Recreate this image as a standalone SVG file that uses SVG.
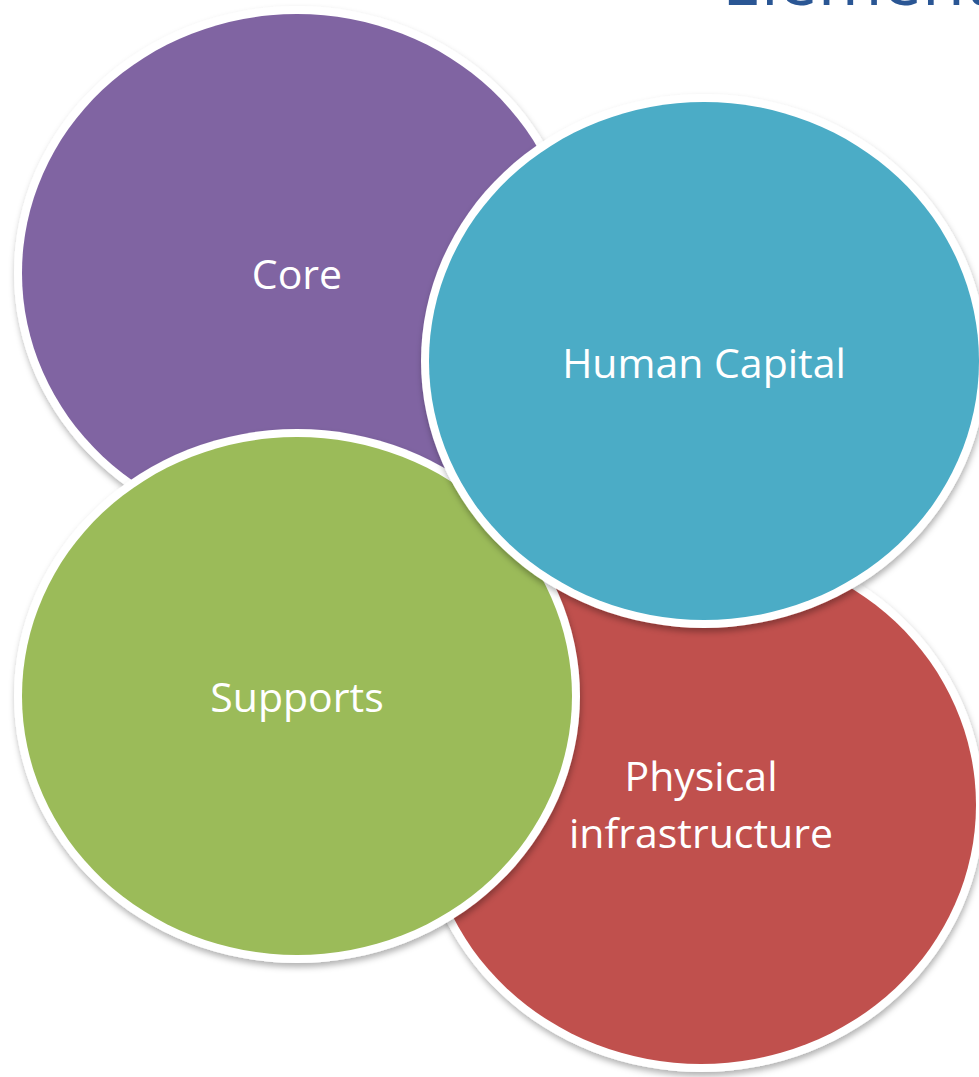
<svg xmlns="http://www.w3.org/2000/svg" width="979" height="1077" viewBox="0 0 979 1077">
  <style>
    .ring { fill: #ffffff; filter: url(#sh); }
    .lbl { font-family: "Open Sans", "Liberation Sans", sans-serif; font-size: 41px; fill: #ffffff; text-anchor: middle; }
    .title { font-family: "Open Sans", "Liberation Sans", sans-serif; font-size: 70px; fill: #2A5694; }
  </style>
  <defs>
    <filter id="sh" x="-10%" y="-10%" width="120%" height="125%">
      <feDropShadow dx="1" dy="4" stdDeviation="3" flood-color="#000000" flood-opacity="0.3"/>
    </filter>
  </defs>
  <rect width="979" height="1077" fill="#ffffff"/>
  <text class="title" x="722" y="5">Elements</text>
  <g id="core">
    <ellipse class="ring" cx="297" cy="273" rx="283" ry="267"/>
    <ellipse cx="297" cy="273" rx="275" ry="259" fill="#8064A2"/>
    <text class="lbl" x="297" y="289">Core</text>
  </g>
  <g id="physical-infrastructure">
    <ellipse class="ring" cx="701" cy="805" rx="283" ry="267"/>
    <ellipse cx="701" cy="805" rx="275" ry="259" fill="#C0504D"/>
    <text class="lbl" x="701" y="791">Physical</text>
    <text class="lbl" x="701" y="848">infrastructure</text>
  </g>
  <g id="supports">
    <ellipse class="ring" cx="297" cy="696" rx="283" ry="267"/>
    <ellipse cx="297" cy="696" rx="275" ry="259" fill="#9BBB59"/>
    <text class="lbl" x="297" y="712">Supports</text>
  </g>
  <g id="human-capital">
    <ellipse class="ring" cx="704" cy="361" rx="283" ry="267"/>
    <ellipse cx="704" cy="361" rx="275" ry="259" fill="#4BACC6"/>
    <text class="lbl" x="704" y="378">Human Capital</text>
  </g>
  <g id="connectors"/>
</svg>
